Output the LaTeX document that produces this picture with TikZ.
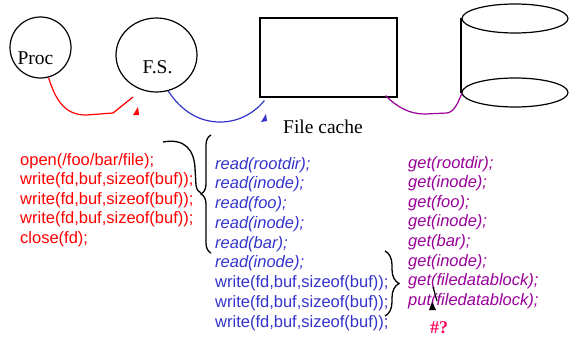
\documentclass[tikz,border=0pt]{standalone}
\usepackage{fontspec}
\setmainfont{Liberation Serif}
\setsansfont{Liberation Sans}
\usetikzlibrary{shapes.geometric, decorations.pathreplacing, calc}
\definecolor{codeRed}{HTML}{FF0000}
\definecolor{codeBlue}{HTML}{3333CC}
\definecolor{codePurple}{HTML}{990099}
\definecolor{askPink}{HTML}{FF0A5A}

\begin{document}
\begin{tikzpicture}[
        x=1pt, y=-1pt,
        % formas de la fila superior
        box/.style={draw, line width=1.2pt, inner sep=0pt},
        caption/.style={font=\fontsize{19.5}{22}\selectfont},
        % lineas de codigo
        codeline/.style={anchor=base west, inner sep=0pt, font=\sffamily\fontsize{16.5}{19.6}\selectfont},
        % conectores y llaves
        link/.style={line width=1.2pt},
        curly/.style={decorate, line width=1.3pt}
    ]
    \useasboundingbox (0,0) rectangle (569,337);

    % -- Fila Superior --
    \node[box, circle, minimum size=61pt, label={[caption, xshift=-5pt, yshift=-11pt]center:Proc}] (proc) at (40.5,47.5) {};
    \node[box, ellipse, minimum width=81pt, minimum height=74pt, label={[caption, xshift=1pt, yshift=-12.5pt]center:F.S.}] (fs) at (156.5,55) {};
    \node[box, rectangle, minimum width=137pt, minimum height=79pt] (cache) at (328.5,57.5) {};
    \node[caption, anchor=base] (cachelabel) at (323,133) {File cache};

    % disco
    \coordinate (disk) at (515,55.5);
    \draw[line width=1.2pt] ($(disk)+(0,-37)$) ellipse [x radius=53pt, y radius=14.5pt];
    \draw[line width=1.2pt] ($(disk)+(0,37)$) ellipse [x radius=53pt, y radius=14.5pt];
    \draw[line width=1.2pt] (461,18.5) -- (461,92.5);
    \coordinate (diskfoot) at (462,93);

    % -- Conexiones --
    \draw[link, codeRed] (proc.-75) .. controls (56,102) and (66,115) .. (86,115) -- (113,113) -- (133,97);
    \fill[codeRed] (133,115) -- (139,115) -- (138,107) -- cycle;

    \draw[link, codeBlue] (fs.-72) .. controls (182,112) and (200,122) .. (220,122) .. controls (240,122) and (255,112) .. ($(cache.south west)+(5,3)$);
    \fill[codeBlue] (261,122) -- (267,121) -- (266,114) -- cycle;

    \draw[link, codePurple] ($(cache.south east)+(-12,-2)$) .. controls (398,108) and (410,114) .. (425,114) -- (447,113) .. controls (455,112) and (459,100) .. (diskfoot);

    % -- Columnas de codigo --
    \foreach \txt [count=\i] in {{open(/foo/bar/file);},{write(fd,buf,sizeof(buf));},{write(fd,buf,sizeof(buf));},{write(fd,buf,sizeof(buf));},{close(fd);}}
        \node[codeline, text=codeRed] (red\i) at (20,{165+19.5*(\i-1)}) {\txt};

    \foreach \txt [count=\i] in {{read(rootdir);},{read(inode);},{read(foo);},{read(inode);},{read(bar);},{read(inode);}}
        \node[codeline, text=codeBlue] (blue\i) at (215,{169+19.75*(\i-1)}) {\itshape\txt};
    \foreach \i in {7,8,9}
        \node[codeline, text=codeBlue] (blue\i) at (215,{169+19.75*(\i-1)}) {write(fd,buf,sizeof(buf));};

    \foreach \txt [count=\i] in {{get(rootdir);},{get(inode);},{get(foo);},{get(inode);},{get(bar);},{get(inode);},{get(filedatablock);},{put(filedatablock);}}
        \node[codeline, text=codePurple] (purple\i) at (408,{168+19.6*(\i-1)}) {\itshape\txt};

    % -- Llaves --
    \draw[line width=1.3pt] (163,142) .. controls (185,138) and (194,150) .. (195,168) -- (196,185) .. controls (197,190) .. (201,193);
    \draw[curly, decoration={brace, amplitude=10pt}] (211,253) -- (211,135);
    \draw[curly, decoration={brace, amplitude=14pt}] (385,251) -- (385,316);

    % -- Pregunta --
    \draw[line width=1.2pt] (433,287) -- (437,301);
    \fill (429,310) -- (436,310) -- (432,302) -- cycle;
    \node[anchor=base west, inner sep=0pt, text=askPink, font=\bfseries\fontsize{18}{20}\selectfont] (ask) at (430,333.5) {\#?};

\end{tikzpicture}
\end{document}
